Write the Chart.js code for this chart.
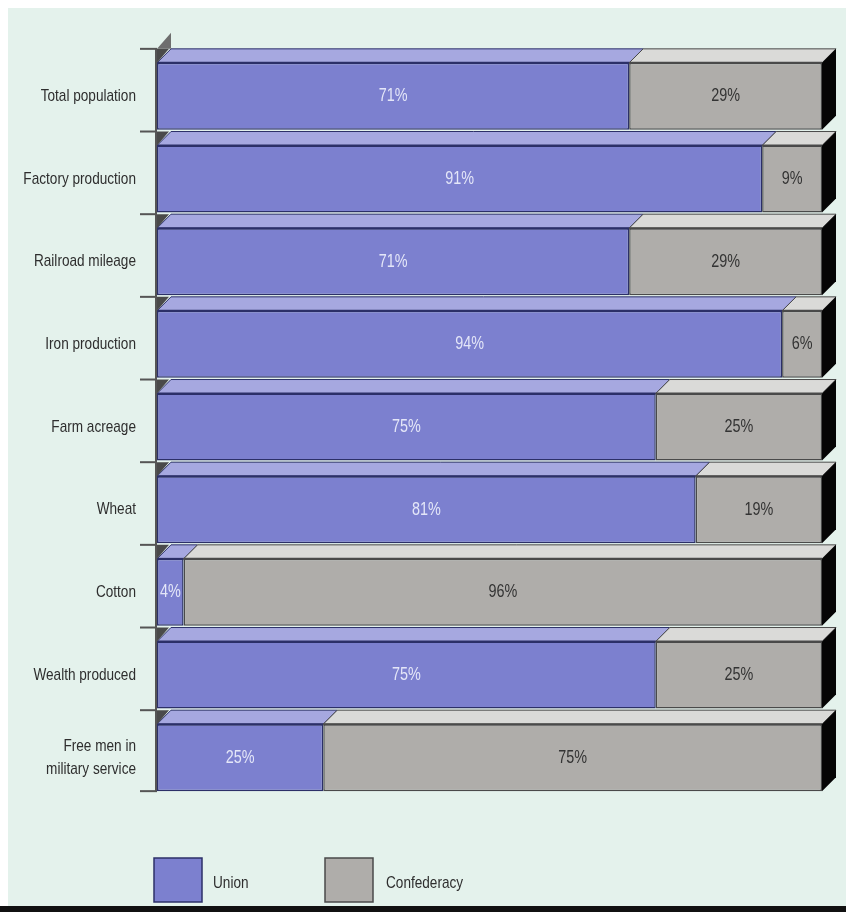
<!DOCTYPE html>
<html lang="en">
<head>
    <meta charset="UTF-8">
    <title>Union vs Confederacy resources</title>
    <script src="https://cdn.jsdelivr.net/npm/chart.js"></script>
    <style>
        body { margin: 0; background: #ffffff; }
        canvas { display: block; }
    </style>
</head>
<body>
    <canvas id="resourceChart" width="846" height="915"></canvas>

    <script>
        const categories = [
            'Total population',
            'Factory production',
            'Railroad mileage',
            'Iron production',
            'Farm acreage',
            'Wheat',
            'Cotton',
            'Wealth produced',
            ['Free men in', 'military service']
        ];
        const unionValues = [71, 91, 71, 94, 75, 81, 4, 75, 25];
        const confederacyValues = [29, 9, 29, 6, 25, 19, 96, 25, 75];

        const FONT = '"Liberation Sans", Arial, sans-serif';
        const NARROW = 0.8; // pas de police étroite installée, on compresse à la main
        const DEPTH = 14;

        const faceColors = [
            { front: '#7c80cf', top: '#a6a8e0', edge: '#2c3068', text: '#e4e6f8' },
            { front: '#afadaa', top: '#dadad8', edge: '#4a4a4a', text: '#333333' }
        ];

        function narrowText(ctx, text, x, y, align) {
            ctx.save();
            ctx.translate(x, y);
            ctx.scale(NARROW, 1);
            ctx.textAlign = align;
            ctx.fillText(text, 0, 0);
            ctx.restore();
        }

        // fond, faces 3D, etiquettes et légende
        const threeDPlugin = {
            id: 'threeD',
            beforeDraw(chart) {
                const ctx = chart.ctx;
                ctx.save();
                ctx.fillStyle = '#ffffff';
                ctx.fillRect(0, 0, chart.width, chart.height);
                ctx.fillStyle = '#e4f2ec';
                ctx.fillRect(8, 8, chart.width - 8, 898);
                ctx.fillStyle = '#111111';
                ctx.fillRect(0, 906, chart.width, 6);
                ctx.restore();
            },
            afterDatasetsDraw(chart) {
                const ctx = chart.ctx;
                const left = chart.chartArea.left;
                const yScale = chart.scales.y;
                const metas = chart.data.datasets.map((d, i) => chart.getDatasetMeta(i));
                ctx.save();

                metas.forEach((meta, di) => {
                    const c = faceColors[di];
                    meta.data.forEach((bar) => {
                        const p = bar.getProps(['x', 'y', 'base', 'height'], true);
                        const top = p.y - p.height / 2;
                        const x0 = Math.min(p.x, p.base);
                        const x1 = Math.max(p.x, p.base);
                        // face du dessus
                        ctx.beginPath();
                        ctx.moveTo(x0, top);
                        ctx.lineTo(x0 + DEPTH, top - DEPTH);
                        ctx.lineTo(x1 + DEPTH, top - DEPTH);
                        ctx.lineTo(x1, top);
                        ctx.closePath();
                        ctx.fillStyle = c.top;
                        ctx.fill();
                        ctx.strokeStyle = c.edge;
                        ctx.lineWidth = 1;
                        ctx.stroke();
                        // arête avant plus marquée
                        ctx.beginPath();
                        ctx.moveTo(x0, top);
                        ctx.lineTo(x1, top);
                        ctx.lineWidth = 2;
                        ctx.stroke();
                    });
                });

                // face latérale noire à droite
                const last = metas[metas.length - 1];
                last.data.forEach((bar) => {
                    const p = bar.getProps(['x', 'y', 'height'], true);
                    const top = p.y - p.height / 2;
                    const bottom = p.y + p.height / 2;
                    ctx.beginPath();
                    ctx.moveTo(p.x, top);
                    ctx.lineTo(p.x + DEPTH, top - DEPTH);
                    ctx.lineTo(p.x + DEPTH, bottom - DEPTH);
                    ctx.lineTo(p.x, bottom);
                    ctx.closePath();
                    ctx.fillStyle = '#050505';
                    ctx.fill();
                });

                // petits coins gauches et graduations
                ctx.strokeStyle = '#555555';
                ctx.lineWidth = 2;
                let lastBottom = 0;
                metas[0].data.forEach((bar, i) => {
                    const p = bar.getProps(['y', 'height'], true);
                    const top = p.y - p.height / 2;
                    lastBottom = p.y + p.height / 2;
                    ctx.beginPath();
                    ctx.moveTo(left, top);
                    ctx.lineTo(left, top - DEPTH);
                    ctx.lineTo(left + DEPTH - 2, top - DEPTH);
                    ctx.closePath();
                    ctx.fillStyle = '#4a4a4a';
                    ctx.fill();
                    if (i === 0) {
                        ctx.beginPath();
                        ctx.moveTo(left, top - DEPTH);
                        ctx.lineTo(left + DEPTH, top - 2 * DEPTH - 2);
                        ctx.lineTo(left + DEPTH, top - DEPTH);
                        ctx.closePath();
                        ctx.fillStyle = '#6e6e6e';
                        ctx.fill();
                    }
                    ctx.beginPath();
                    ctx.moveTo(left - 17, top - DEPTH);
                    ctx.lineTo(left, top - DEPTH);
                    ctx.stroke();
                });
                ctx.beginPath();
                ctx.moveTo(left - 17, lastBottom);
                ctx.lineTo(left, lastBottom);
                ctx.stroke();

                // axe vertical
                const firstP = metas[0].data[0].getProps(['y', 'height'], true);
                ctx.beginPath();
                ctx.moveTo(left - 1, firstP.y - firstP.height / 2 - DEPTH);
                ctx.lineTo(left - 1, lastBottom);
                ctx.stroke();

                // libellés des catégories
                ctx.font = '17px ' + FONT;
                ctx.fillStyle = '#2e2e2e';
                ctx.textBaseline = 'middle';
                chart.data.labels.forEach((lab, i) => {
                    const y = yScale.getPixelForTick(i);
                    const lines = Array.isArray(lab) ? lab : [lab];
                    const lh = 23;
                    lines.forEach((line, k) => {
                        const ly = y + (k - (lines.length - 1) / 2) * lh;
                        narrowText(ctx, line, left - 21, ly, 'right');
                    });
                });

                // valeurs
                ctx.font = '18px ' + FONT;
                ctx.textBaseline = 'middle';
                metas.forEach((meta, di) => {
                    meta.data.forEach((bar, i) => {
                        const p = bar.getProps(['x', 'y', 'base'], true);
                        const v = chart.data.datasets[di].data[i];
                        ctx.fillStyle = faceColors[di].text;
                        narrowText(ctx, v + '%', (p.x + p.base) / 2, p.y, 'center');
                    });
                });

                ctx.restore();
            },
            afterDraw(chart) {
                // légende
                const ctx = chart.ctx;
                const items = [
                    { x: 154, textX: 213 },
                    { x: 325, textX: 386 }
                ];
                ctx.save();
                chart.data.datasets.forEach((ds, i) => {
                    const it = items[i];
                    ctx.fillStyle = ds.backgroundColor;
                    ctx.fillRect(it.x, 858, 48, 44);
                    ctx.strokeStyle = faceColors[i].edge;
                    ctx.lineWidth = 1.5;
                    ctx.strokeRect(it.x, 858, 48, 44);
                    ctx.fillStyle = '#2e2e2e';
                    ctx.font = '17px ' + FONT;
                    ctx.textBaseline = 'middle';
                    narrowText(ctx, ds.label, it.textX, 883, 'left');
                });
                ctx.restore();
            }
        };

        new Chart(document.getElementById('resourceChart'), {
            type: 'bar',
            data: {
                labels: categories,
                datasets: [
                    {
                        label: 'Union',
                        data: unionValues,
                        backgroundColor: faceColors[0].front,
                        borderColor: faceColors[0].edge,
                        borderWidth: 1.5,
                        borderSkipped: false
                    },
                    {
                        label: 'Confederacy',
                        data: confederacyValues,
                        backgroundColor: faceColors[1].front,
                        borderColor: faceColors[1].edge,
                        borderWidth: 1.5,
                        borderSkipped: false
                    }
                ]
            },
            options: {
                indexAxis: 'y',
                responsive: false,
                animation: false,
                devicePixelRatio: 1,
                layout: { padding: { left: 0, right: 24, top: 55, bottom: 116 } },
                barPercentage: 0.81,
                categoryPercentage: 1,
                plugins: {
                    legend: { display: false },
                    tooltip: { enabled: false }
                },
                scales: {
                    x: {
                        stacked: true,
                        min: 0,
                        max: 100,
                        display: false
                    },
                    y: {
                        stacked: true,
                        afterFit(scale) { scale.width = 157; },
                        grid: { display: false, drawTicks: false },
                        border: { display: false },
                        ticks: { display: false }
                    }
                }
            },
            plugins: [threeDPlugin]
        });
    </script>
</body>
</html>
